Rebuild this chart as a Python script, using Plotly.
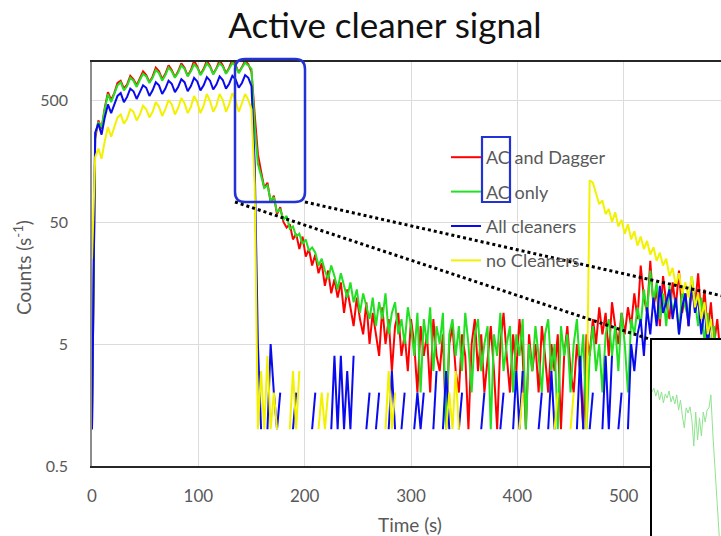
import plotly.graph_objects as go

N = None
W, H = 721, 536

# ---------------- data ----------------
time_s = list(range(0, 592, 3))  # sampling grid, 3 s

ac_dagger = [
    1, 240, 340, 290, 430, 580, 500, 570, 690, 720,
    620, 670, 790, 740, 660, 750, 860, 800, 700, 780,
    920, 860, 740, 820, 960, 880, 770, 860, 1000, 920,
    790, 880, 1050, 940, 810, 900, 1050, 950, 820, 910,
    1060, 960, 830, 920, 1080, 970, 840, 930, 1050, 980,
    850, 380, 180, 130, 95, 105, 72, 82, 58, 66,
    50, 45, 48, 36, 40, 30, 38, 26, 30, 22,
    27, 19, 23, 15, 20, 13, 17, 12, 16, 9,
    14, 10, 7, 12, 8, 6, 11, 5, 9, 6,
    4, 10, 5, 8, 3, 7, 9, 4, 6, 3,
    8, 5, 2, 7, 4, 6, 2, 8, 4, 3,
    6, 1, 5, 7, 3, 2, 6, 4, 1, 5,
    8, 3, 6, 2, 4, 7, 3, 1, 5, 9,
    4, 2, 6, 3, 8, 4, 1, 6, 3, 5,
    2, 7, 4, 2, 5, 3, 6, 1, 4, 7,
    3, 2, 5, 3, 1, 6, 4, 8, 5, 10,
    6, 9, 4, 11, 7, 5, 9, 6, 10, 7,
    13, 8, 22, 12, 9, 24, 10, 14, 7, 18,
    11, 8, 16, 10, 20, 9, 13, 7, 15, 10,
    19, 8, 14, 6, 11, 5, 8, 4,
]

ac_only = [
    1, 260, 330, 300, 420, 560, 480, 560, 660, 700,
    600, 650, 760, 720, 640, 730, 820, 780, 690, 760,
    880, 830, 720, 800, 920, 860, 760, 840, 960, 900,
    780, 860, 980, 920, 800, 880, 1000, 930, 810, 900,
    1000, 940, 820, 900, 1010, 950, 830, 920, 1010, 960,
    900, 300, 150, 120, 95, 100, 75, 80, 60, 64,
    52, 56, 44, 46, 38, 40, 33, 36, 29, 31,
    28, 22, 25, 20, 17, 22, 18, 14, 19, 15,
    12, 16, 11, 14, 9, 13, 10, 8, 12, 7,
    11, 8, 13, 6, 9, 11, 6, 8, 5, 10,
    7, 4, 9, 2, 8, 5, 10, 3, 7, 5,
    9, 1, 6, 8, 4, 7, 3, 9, 5, 2,
    6, 8, 3, 5, 7, 1, 6, 4, 9, 3,
    5, 7, 2, 6, 4, 8, 1, 5, 3, 7,
    4, 2, 6, 8, 3, 5, 1, 7, 4, 6,
    2, 5, 8, 3, 6, 1, 4, 7, 3, 5,
    2, 6, 8, 4, 7, 3, 9, 5, 2, 8,
    6, 10, 7, 14, 9, 20, 11, 16, 8, 13,
    7, 15, 9, 12, 6, 14, 10, 8, 18, 11,
    7, 12, 5, 9, 4, 7, 3, 5,
]

all_cleaners = [
    1, 270, 320, 260, 360, 460, 390, 460, 540, 570,
    480, 530, 620, 590, 510, 580, 660, 630, 540, 600,
    700, 660, 560, 620, 720, 680, 580, 640, 740, 700,
    590, 650, 760, 710, 600, 660, 770, 720, 610, 670,
    780, 730, 620, 680, 790, 740, 630, 690, 800, 760,
    650, 150, 5, 1, N, 1, 5, 2, 1, 2,
    N, N, N, 1, 2, N, N, N, N, 1,
    2, N, N, N, N, 1, 4, 1, 4, 1,
    3, 1, 4, N, N, N, 1, 2, N, 1,
    2, N, N, 1, 3, 1, N, 1, 2, N,
    N, 1, 2, 1, 2, N, N, 1, 3, N,
    1, 3, 1, N, N, 1, 2, N, N, N,
    N, N, 1, 2, N, N, N, N, 1, 2,
    N, N, 1, 3, 1, 3, N, N, N, N,
    1, 2, N, 1, 3, 1, N, N, N, N,
    N, N, 1, 4, 1, N, 1, 2, N, N,
    1, 4, 1, 4, N, 1, 2, N, 1, 5,
    3, 6, 8, 4, 10, 6, 12, 7, 15, 9,
    11, 14, 8, 12, 6, 10, 13, 7, 16, 9,
    12, 6, 10, 5, 8, 4, 3, 2,
]

no_cleaners = [
    25, 170, 200, 165, 230, 300, 250, 300, 360, 380,
    320, 350, 420, 400, 340, 380, 450, 420, 360, 400,
    480, 440, 370, 420, 500, 460, 380, 430, 520, 470,
    390, 440, 540, 480, 390, 450, 560, 490, 400, 450,
    560, 500, 400, 460, 570, 500, 400, 470, 560, 500,
    420, 100, 1, 3, 1, 4, 1, 2, 1, N,
    N, N, 1, 3, 1, 3, N, N, N, N,
    N, 1, 2, 1, 2, N, N, N, N, N,
    N, N, N, N, N, N, N, N, N, N,
    N, N, 1, 3, 1, 2, N, N, N, N,
    N, N, N, N, N, N, N, N, N, N,
    N, 1, 2, 1, 3, 1, N, N, N, N,
    N, N, N, N, N, N, N, N, N, N,
    N, N, N, N, 1, 2, N, N, N, N,
    N, N, N, N, N, 1, 2, N, N, N,
    1, 2, N, N, N, 1, 110, 105, 85, 70,
    75, 58, 64, 50, 60, 46, 52, 40, 48, 36,
    42, 32, 38, 30, 35, 27, 31, 24, 28, 22,
    25, 18, 21, 15, 19, 13, 16, 12, 18, 10,
    13, 8, 11, 6, 8, 4, 3, 2,
]

# zoomed inset (AC only, around the drop)
inset_time = [135.0 + 0.5 * k for k in range(38)]
inset_counts = [
    888, 904, 871, 896, 855, 888, 843, 880, 863, 892,
    847, 871, 839, 876, 814, 855, 790, 741, 823, 802,
    827, 774, 667, 806, 692, 782, 708, 806, 765, 814,
    823, 876, 720, 580, 470, 330, 200, 100,
]

series_names = ["AC and Dagger", "AC only", "All cleaners", "no Cleaners"]
series_values = [ac_dagger, ac_only, all_cleaners, no_cleaners]
series_colors = ["#ff0000", "#22e022", "#0a0aee", "#f2f200"]

y_tickvals = [0.5, 5, 50, 500]
y_ticktext = ["0.5", "5", "50", "500"]
x_tickvals = [0, 100, 200, 300, 400, 500]

# ---------------- helpers (pixel -> paper) ----------------
def px(x):
    return x / W

def py(y):
    return 1 - y / H

FONT = "Lato, Carlito, 'Open Sans', sans-serif"
GRAY = "#595959"

fig = go.Figure()
for name, vals, col in zip(series_names, series_values, series_colors):
    fig.add_trace(go.Scatter(
        x=time_s, y=vals, mode="lines", name=name, legendgroup=name,
        line=dict(color=col, width=2), connectgaps=False,
        xaxis="x", yaxis="y",
    ))

fig.add_trace(go.Scatter(
    x=inset_time, y=inset_counts, mode="lines", showlegend=False,
    line=dict(color="#8fe48f", width=1), xaxis="x2", yaxis="y2",
))

# rounded rectangle path
def rounded(x0, y0, x1, y1, r):
    X0, X1 = px(x0), px(x1)
    YT, YB = py(y0), py(y1)
    rx, ry = r / W, r / H
    return (f"M {X0+rx},{YT} L {X1-rx},{YT} Q {X1},{YT} {X1},{YT-ry} "
            f"L {X1},{YB+ry} Q {X1},{YB} {X1-rx},{YB} L {X0+rx},{YB} "
            f"Q {X0},{YB} {X0},{YB+ry} L {X0},{YT-ry} Q {X0},{YT} {X0+rx},{YT} Z")

BOX_BLUE = "#2233d6"
shapes = [
    dict(type="path", xref="paper", yref="paper", path=rounded(235, 59, 305, 202, 10),
         line=dict(color=BOX_BLUE, width=2.5), layer="above"),
    dict(type="rect", xref="paper", yref="paper", x0=px(482), x1=px(510), y0=py(137), y1=py(202),
         line=dict(color=BOX_BLUE, width=2.2), layer="above"),
    dict(type="line", xref="paper", yref="paper", x0=px(235), y0=py(202), x1=px(652), y1=py(340),
         line=dict(color="black", width=3, dash="dot"), layer="above"),
    dict(type="line", xref="paper", yref="paper", x0=px(305), y0=py(202), x1=px(745), y1=py(301),
         line=dict(color="black", width=3, dash="dot"), layer="above"),
]

annotations = [
    dict(text="Time (s)", xref="paper", yref="paper", x=px(410), y=py(524),
         showarrow=False, font=dict(family=FONT, size=19, color=GRAY),
         xanchor="center", yanchor="middle"),
    dict(text="Counts (s<sup>-1</sup>)", xref="paper", yref="paper", x=px(22), y=py(268),
         showarrow=False, textangle=-90, font=dict(family=FONT, size=19, color=GRAY),
         xanchor="center", yanchor="middle"),
]

fig.update_layout(
    width=W, height=H, autosize=False,
    margin=dict(l=0, r=0, t=0, b=0, pad=0, autoexpand=False),
    paper_bgcolor="white", plot_bgcolor="white",
    title=dict(text="Active cleaner signal", x=px(385), y=py(26), xanchor="center",
               yanchor="middle", automargin=False,
               font=dict(family=FONT, size=35, color="#111111")),
    font=dict(family=FONT, color=GRAY),
    showlegend=True,
    legend=dict(x=px(446), y=py(139), xanchor="left", yanchor="top",
                bgcolor="rgba(0,0,0,0)", font=dict(family=FONT, size=18, color=GRAY),
                tracegroupgap=8, itemwidth=30),
    xaxis=dict(domain=[px(92), 1], range=[0, 591.5], tickvals=x_tickvals,
               showgrid=True, gridcolor="#dcdcdc", gridwidth=1, zeroline=False,
               showline=True, mirror=True, linecolor="#262626", linewidth=1.5,
               ticks="", ticklabelstandoff=14, automargin=False,
               tickfont=dict(family=FONT, size=17, color=GRAY), anchor="y"),
    yaxis=dict(domain=[py(466), py(62)], type="log", range=[-0.30103, 3.0105],
               tickvals=y_tickvals, ticktext=y_ticktext,
               showgrid=True, gridcolor="#dcdcdc", gridwidth=1, zeroline=False,
               showline=True, linecolor="#8c8c8c", linewidth=1.5,
               ticks="", ticklabelstandoff=19, automargin=False,
               tickfont=dict(family=FONT, size=16, color=GRAY), anchor="x"),
    xaxis2=dict(domain=[px(652), 1], range=[135, 153.16], anchor="y2", side="top",
                showgrid=False, zeroline=False, showticklabels=False, ticks="",
                showline=True, linecolor="black", linewidth=2, automargin=False),
    yaxis2=dict(domain=[0, py(340)], range=[300, 1100], anchor="x2", side="left",
                showgrid=False, zeroline=False, showticklabels=False, ticks="",
                showline=True, linecolor="black", linewidth=2, automargin=False),
    shapes=shapes,
    annotations=annotations,
)

fig.write_html(
    "out.html",
    config={"displayModeBar": False},
    post_script="document.body.style.margin='0';document.body.style.padding='0';"
                "document.body.style.overflow='hidden';",
)
